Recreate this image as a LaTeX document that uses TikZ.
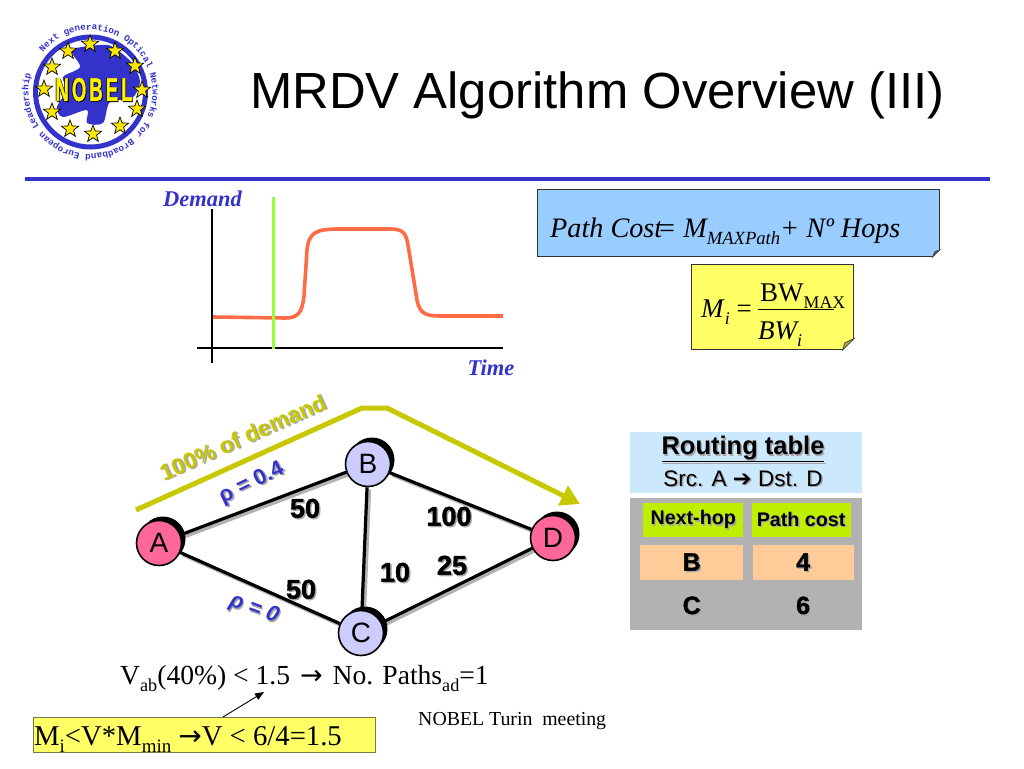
\documentclass[tikz,border=0pt]{standalone}
\usepackage{fontspec}
\usepackage{xcolor}
\usepackage{tikz}
\usetikzlibrary{calc, positioning, arrows.meta, shapes.geometric, shadows, backgrounds, decorations.text}
\setmainfont{Liberation Serif}
\setsansfont{Liberation Sans}
\setmonofont{Liberation Mono}
\newfontfamily\arrowfont{DejaVu Sans}
\newfontface\heavyfont[FakeBold=1.5]{Liberation Sans Bold}
\definecolor{ruleBlue}{HTML}{3333CC}
\definecolor{curveRed}{HTML}{FF6B47}
\definecolor{markGreen}{HTML}{99FF33}
\definecolor{routeOlive}{HTML}{C8C800}
\definecolor{costBlue}{HTML}{99CCFF}
\definecolor{noteYellow}{HTML}{FFFF66}
\definecolor{linkGray}{HTML}{B2B2B2}
\definecolor{nodeLilac}{HTML}{CCCCFF}
\definecolor{nodePink}{HTML}{FF6699}
\definecolor{tableBlue}{HTML}{CCE8FC}
\definecolor{tableGreen}{HTML}{BFEF00}
\definecolor{tableOrange}{HTML}{FFCC99}
\newcommand{\fsize}[1]{\fontsize{#1}{#1}\selectfont}
\newcommand{\shtext}[1]{\leavevmode\rlap{\kern1.4pt\raisebox{-1.4pt}{\textcolor{black!35}{#1}}}#1}
\newcommand{\subtxt}[1]{\raisebox{-0.26em}{\scalebox{0.66}{#1}}}
\newcommand{\logoletter}[1]{\rlap{\kern1.4pt\raisebox{-0.8pt}{\textcolor{black}{#1}}}\rlap{\kern-1.4pt\textcolor{black}{#1}}#1}
\tikzset{
    x=1pt, y=1pt,
    title/.style={font=\sffamily\fsize{50.8}, inner sep=0pt},
    axis/.style={draw=black, line width=1.6pt},
    axisLabel/.style={font=\rmfamily\bfseries\itshape\fsize{22.5}, text=ruleBlue, inner sep=0pt},
    netNode/.style={circle, draw=black, line width=1.6pt, minimum size=45pt, inner sep=0pt, font=\sffamily\fsize{28},
        drop shadow={shadow xshift=4pt, shadow yshift=4pt, fill=black, opacity=1}},
    coreNode/.style={netNode, fill=nodeLilac},
    edgeNode/.style={netNode, fill=nodePink},
    link/.style={draw=black, line width=3.2pt,
        preaction={draw=linkGray, line width=3.2pt, transform canvas={xshift=2.5pt, yshift=-2.5pt}}},
    weight/.style={font=\heavyfont\fsize{27}, inner sep=0pt},
    rhoLabel/.style={font=\sffamily\bfseries\fsize{22}, text=ruleBlue, inner sep=0pt},
    tableCell/.style={font=\heavyfont\fsize{25}, minimum height=35pt, inner sep=0pt},
    headCell/.style={font=\sffamily\bfseries\fsize{19.7}, fill=tableGreen, minimum height=34pt, inner sep=0pt},
    euStar/.style={star, star points=5, star point ratio=2.4, fill=yellow!90!orange, draw=black, line width=0.7pt, minimum size=18pt, inner sep=0pt},
    fold/.style={draw=black!75, line width=0.8pt, fill=black!60}
}
\begin{document}
\begin{tikzpicture}
    \useasboundingbox (0,0) rectangle (1024,-768);

    % Logo
    \coordinate (logoMid) at (90.5,-92);
    \fill[ruleBlue] plot[smooth cycle] coordinates {(72,-50) (100,-45) (113,-47) (132,-63) (140,-82) (132,-98) (110,-102) (103,-123) (87,-123) (87,-110) (63,-117) (57,-107) (67,-90) (63,-77) (80,-67)};
    \draw[ruleBlue, line width=5pt] (logoMid) circle (55);
    \foreach \i/\p in {1/{90,-44}, 2/{115,-51}, 3/{135,-66}, 4/{142,-90}, 5/{137,-109}, 6/{120,-126}, 7/{93,-134}, 8/{70,-129}, 9/{52,-112}, 10/{44,-89}, 11/{52,-67}, 12/{68,-51}}
        \node[euStar] (star\i) at (\p) {};
    \node[font=\heavyfont\fsize{33}, text=yellow, inner sep=0pt, xscale=0.56] (logoName) at (94,-90) {\logoletter{N}\,\logoletter{O}\,\logoletter{B}\,\logoletter{E}\,\logoletter{L}};
    \path[decorate, decoration={text along path, text color=ruleBlue,
        text={|\ttfamily\bfseries\fsize{9.2}|Next generation Optical Networks for Broadband European Leadership}}]
        ($(logoMid)+(140:62)$) arc (140:-205:62);

    % Title
    \node[title, anchor=base west] (slideTitle) at (250,-108) {MRDV Algorithm Overview (III)};
    \coordinate (ruleL) at (25,-179);
    \coordinate (ruleR) at (990,-179);
    \draw[ruleBlue, line width=4pt] (ruleL) -- (ruleR);

    % Demand chart
    \coordinate (yTop) at (212,-209);
    \coordinate (yEnd) at (212,-363);
    \coordinate (xStart) at (197,-348);
    \coordinate (xEnd) at (503,-348);
    \draw[axis] (yTop) -- (yEnd);
    \draw[axis] (xStart) -- (xEnd);
    \draw[curveRed, line width=3.6pt, line join=round] (213,-317) -- (285,-318) .. controls (298,-318) and (302,-313) .. (304,-296)
        -- (307,-250) .. controls (309,-232) and (316,-229) .. (340,-229) -- (390,-229)
        .. controls (403,-229) and (406,-233) .. (408,-245) -- (417,-300) .. controls (420,-316) and (428,-316) .. (445,-316) -- (503,-316);
    \coordinate (markTop) at (273,-197);
    \coordinate (markEnd) at (273,-349);
    \draw[markGreen, line width=3pt] (markTop) -- (markEnd);
    \node[axisLabel, anchor=west] (demandLabel) at (163,-199) {Demand};
    \node[axisLabel] (timeLabel) at (491,-368) {Time};

    % Cost formula
    \node[draw=black!80, line width=0.8pt, fill=costBlue, minimum width=402pt, minimum height=67pt, anchor=north west] (costBox) at (537,-189) {};
    \fill[white] ($(costBox.south east)+(-7,0)$) -- (costBox.south east) -- ($(costBox.south east)+(0,7)$) -- cycle;
    \draw[fold] ($(costBox.south east)+(-7,0)$) -- ($(costBox.south east)+(0,7)$) -- ($(costBox.south east)+(-5,5)$) -- cycle;
    \node[font=\rmfamily\itshape\fsize{28.2}, anchor=base west, inner sep=0pt] (costText) at (550,-237) {Path Cost\kern-5pt= M\subtxt{MAXPath}+ Nº Hops};

    % Margin formula
    \node[draw=black!80, line width=0.8pt, fill=noteYellow, minimum width=162pt, minimum height=85pt, anchor=north west] (marginBox) at (691,-264) {};
    \fill[white] ($(marginBox.south east)+(-11,0)$) -- (marginBox.south east) -- ($(marginBox.south east)+(0,11)$) -- cycle;
    \draw[draw=black!75, line width=0.8pt, fill=noteYellow!70!black] ($(marginBox.south east)+(-11,0)$) -- ($(marginBox.south east)+(0,11)$) -- ($(marginBox.south east)+(-9,7)$) -- cycle;
    \node[font=\rmfamily\fsize{27}, anchor=base west, inner sep=0pt] (marginLeft) at (701,-317) {\textit{M}\subtxt{\textit{i}} =};
    \node[font=\rmfamily\fsize{27}, anchor=base west, inner sep=0pt] (marginTop) at (760,-301) {BW\subtxt{MAX}};
    \node[font=\rmfamily\itshape\fsize{27}, anchor=base west, inner sep=0pt] (marginBot) at (758,-339) {BW\subtxt{i}};
    \coordinate (barL) at (758,-309);
    \coordinate (barR) at (834,-309);
    \draw[line width=0.9pt] (barL) -- (barR);

    % Network
    \node[edgeNode] (A) at (159,-543) {A};
    \node[coreNode] (B) at (368,-464) {B};
    \node[coreNode] (C) at (361,-633) {C};
    \node[edgeNode] (D) at (553,-538) {D};
    \begin{scope}[on background layer]
        \draw[link] (A) -- (B);
        \draw[link] (A) -- (C);
        \draw[link] (B) -- (C);
        \draw[link] (B) -- (D);
        \draw[link] (C) -- (D);
    \end{scope}
    \node[weight] (wAB) at (305,-509) {\shtext{50}};
    \node[weight] (wAC) at (301,-590) {\shtext{50}};
    \node[weight] (wBC) at (395,-573) {\shtext{10}};
    \node[weight] (wBD) at (449,-517) {\shtext{100}};
    \node[weight] (wCD) at (452,-566) {\shtext{25}};
    \node[rhoLabel, rotate=26] (rhoAB) at (252,-484) {\shtext{ρ = 0.4}};
    \node[rhoLabel, rotate=-20] (rhoAC) at (254,-610) {\shtext{\itshape ρ = 0}};

    % Demand route
    \coordinate (routeA) at (136,-510);
    \coordinate (routeB) at (362,-408);
    \coordinate (routeC) at (387,-408);
    \coordinate (routeD) at (580,-504);
    \draw[routeOlive, line width=5pt, line join=round, -{Triangle[length=19pt, width=21pt]}] (routeA) -- (routeB) -- (routeC) -- (routeD);
    \node[font=\sffamily\bfseries\fsize{22.7}, text=routeOlive, rotate=24, inner sep=0pt] (routeLabel) at (243,-438) {\shtext{100\% of demand}};

    % Routing table
    \node[fill=tableBlue, minimum width=232pt, minimum height=61pt, anchor=north west, inner sep=0pt] (tableHead) at (630,-432) {};
    \node[fill=linkGray, minimum width=232pt, minimum height=132pt, anchor=north west, inner sep=0pt] (tableBody) at (630,-498) {};
    \node[font=\sffamily\bfseries\fsize{25.5}, inner sep=0pt] (tableTitle) at (743,-450) {\shtext{\underline{Routing table}}};
    \node[font=\sffamily\fsize{22.5}, inner sep=0pt] (tableRoute) at (743,-479) {\shtext{Src. A {\arrowfont ➔} Dst. D}};
    \node[headCell, minimum width=100pt, anchor=north west] (hopHead) at (643,-503) {\shtext{Next-hop}};
    \node[headCell, minimum width=99pt, right=8pt of hopHead] (costHead) {\shtext{Path cost}};
    \node[tableCell, fill=tableOrange, minimum width=103pt, anchor=north west] (hopB) at (640,-545) {\shtext{B}};
    \node[tableCell, fill=tableOrange, minimum width=101pt, right=9pt of hopB] (costB) {\shtext{4}};
    \node[tableCell, minimum width=103pt, below=8pt of hopB] (hopC) {\shtext{C}};
    \node[tableCell, minimum width=101pt, below=8pt of costB] (costC) {\shtext{6}};

    % Bottom notes
    \node[font=\rmfamily\fsize{27.6}, anchor=base west, inner sep=0pt] (vabText) at (120,-684) {V\subtxt{ab}(40\%) < 1.5\kern3pt\ {\arrowfont\fsize{27}→}\ \kern3pt No. Paths\subtxt{ad}=1};
    \node[draw=black!60!yellow, line width=0.8pt, fill=noteYellow, minimum width=342pt, minimum height=35pt, anchor=north west, inner sep=0pt] (boundBox) at (33,-717) {};
    \node[font=\rmfamily\fsize{28.7}, anchor=base west, inner sep=0pt] (boundText) at (34,-745) {M\subtxt{i}<V*M\subtxt{min} {\arrowfont\fsize{28}→}V < 6/4=1.5};
    \coordinate (noteTip) at (264,-692);
    \draw[-{Triangle[length=9pt, width=7pt]}, line width=0.9pt] (223,-717) -- (noteTip);
    \node[font=\rmfamily\fsize{19.8}, anchor=base west, inner sep=0pt] (footer) at (418,-725) {NOBEL Turin\ \ meeting};
\end{tikzpicture}
\end{document}
